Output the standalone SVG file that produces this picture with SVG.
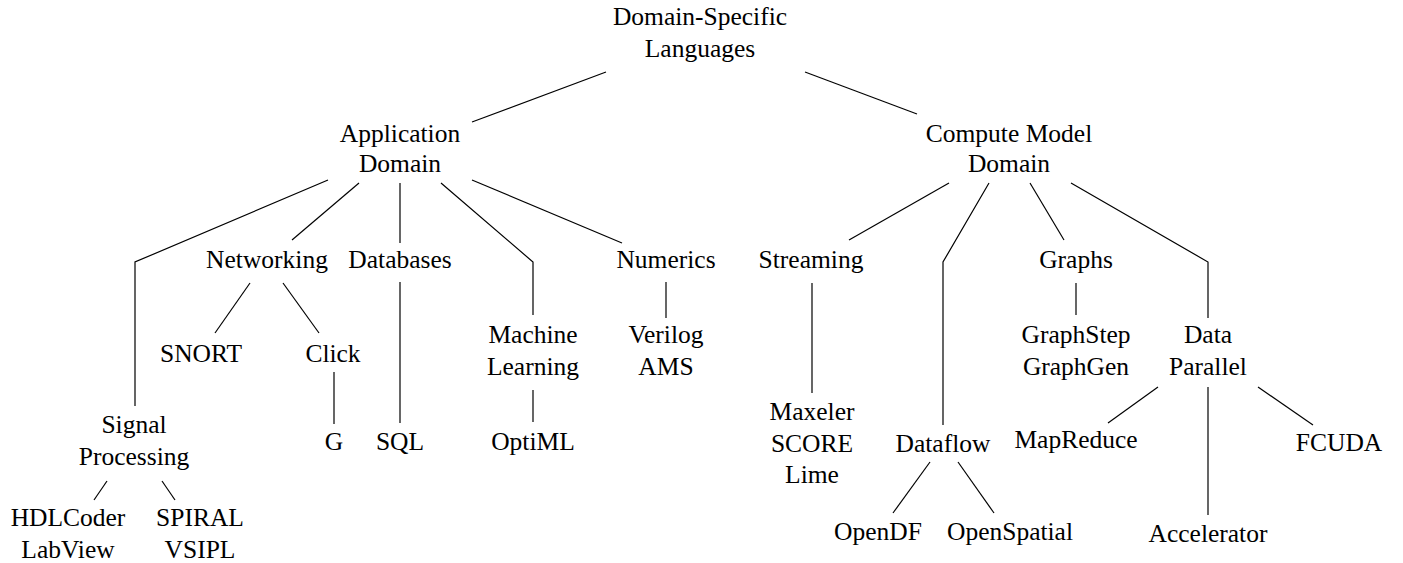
<svg xmlns="http://www.w3.org/2000/svg" width="1403" height="563" viewBox="0 0 1403 563">
<style>
.e{fill:none;stroke:#000;stroke-width:1.2}
</style>
<rect width="1403" height="563" fill="#fff"/>
<g id="connectors">
<polyline class="e" points="606,72 472,122"/>
<polyline class="e" points="805,72 917,114"/>
<polyline class="e" points="328,180 135,262 135,406"/>
<polyline class="e" points="359,183 292,240"/>
<polyline class="e" points="400,183 400,243"/>
<polyline class="e" points="441,183 533,262 533,315"/>
<polyline class="e" points="472,180 622,243"/>
<polyline class="e" points="250,283 215,333"/>
<polyline class="e" points="283,283 319,333"/>
<polyline class="e" points="334,372 334,424"/>
<polyline class="e" points="400,282 400,423"/>
<polyline class="e" points="533,390 533,422"/>
<polyline class="e" points="666,282 666,318"/>
<polyline class="e" points="107,481 94,500"/>
<polyline class="e" points="162,481 175,500"/>
<polyline class="e" points="949,183 849,240"/>
<polyline class="e" points="989,183 943,262 943,425"/>
<polyline class="e" points="1030,183 1064,240"/>
<polyline class="e" points="1071,183 1208,262 1208,318"/>
<polyline class="e" points="812,283 812,393"/>
<polyline class="e" points="1076,283 1076,315"/>
<polyline class="e" points="930,462 893,513"/>
<polyline class="e" points="958,462 994,513"/>
<polyline class="e" points="1158,387 1108,423"/>
<polyline class="e" points="1208,387 1208,515"/>
<polyline class="e" points="1258,387 1313,425"/>
</g>
<g id="nodes" font-family="'Liberation Serif', 'DejaVu Serif', serif" font-size="25.5" fill="#000" text-anchor="middle">
<g id="root"><text x="700" y="25">Domain-Specific</text><text x="700" y="57">Languages</text></g>
<g id="app"><text x="400" y="142">Application</text><text x="400" y="172">Domain</text></g>
<g id="compute"><text x="1009" y="142">Compute Model</text><text x="1009" y="172">Domain</text></g>
<g id="networking"><text x="267" y="268">Networking</text></g>
<g id="databases"><text x="400" y="268">Databases</text></g>
<g id="numerics"><text x="666" y="268">Numerics</text></g>
<g id="streaming"><text x="811" y="268">Streaming</text></g>
<g id="graphs"><text x="1076" y="268">Graphs</text></g>
<g id="snort"><text x="201" y="362">SNORT</text></g>
<g id="click"><text x="333" y="362">Click</text></g>
<g id="ml"><text x="533" y="343">Machine</text><text x="533" y="375">Learning</text></g>
<g id="verilog"><text x="666" y="343">Verilog</text><text x="666" y="375">AMS</text></g>
<g id="graphstep"><text x="1076" y="343">GraphStep</text><text x="1076" y="375">GraphGen</text></g>
<g id="dataparallel"><text x="1208" y="343">Data</text><text x="1208" y="375">Parallel</text></g>
<g id="signal"><text x="134" y="433">Signal</text><text x="134" y="465">Processing</text></g>
<g id="g"><text x="334" y="450">G</text></g>
<g id="sql"><text x="400" y="450">SQL</text></g>
<g id="optiml"><text x="533" y="450">OptiML</text></g>
<g id="maxeler"><text x="812" y="420">Maxeler</text><text x="812" y="452">SCORE</text><text x="812" y="483">Lime</text></g>
<g id="dataflow"><text x="943" y="452">Dataflow</text></g>
<g id="mapreduce"><text x="1076" y="448">MapReduce</text></g>
<g id="fcuda"><text x="1339" y="451">FCUDA</text></g>
<g id="hdlcoder"><text x="68" y="526">HDLCoder</text><text x="68" y="558">LabView</text></g>
<g id="spiral"><text x="200" y="526">SPIRAL</text><text x="200" y="558">VSIPL</text></g>
<g id="opendf"><text x="878" y="540">OpenDF</text></g>
<g id="openspatial"><text x="1010" y="540">OpenSpatial</text></g>
<g id="accelerator"><text x="1208" y="542">Accelerator</text></g>
</g>
</svg>
